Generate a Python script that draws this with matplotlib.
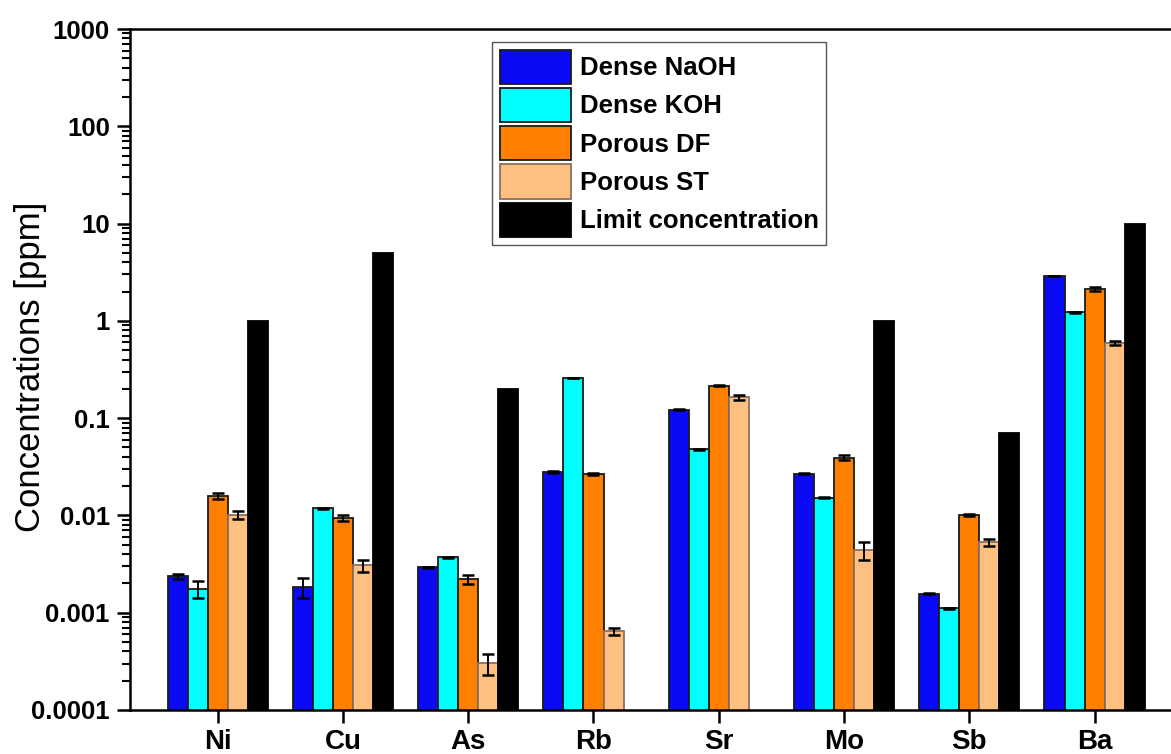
import numpy as np
import matplotlib
matplotlib.use('Agg')
import matplotlib.pyplot as plt

plt.rcParams['font.family'] = ['Liberation Sans', 'DejaVu Sans']

# ── Data ─────────────────────────────────────────────────────
elements = ['Ni', 'Cu', 'As', 'Rb', 'Sr', 'Mo', 'Sb', 'Ba']

dense_naoh     = [0.00236, 0.00185, 0.00292, 0.0280, 0.122, 0.0269, 0.00157, 2.90]
dense_naoh_err = [0.00015, 0.00045, 0.00004, 0.0004, 0.002, 0.0004, 0.00003, 0.02]

dense_koh      = [0.00177, 0.0118, 0.00373, 0.258, 0.0479, 0.0152, 0.00111, 1.22]
dense_koh_err  = [0.00037, 0.0001, 0.00004, 0.002, 0.0005, 0.0002, 0.00001, 0.01]

porous_df      = [0.0159, 0.0094, 0.00221, 0.0268, 0.216, 0.0392, 0.0101, 2.12]
porous_df_err  = [0.0013, 0.0006, 0.00025, 0.0005, 0.004, 0.0025, 0.0003, 0.10]

porous_st      = [0.0101, 0.00308, 0.000303, 0.000647, 0.163, 0.00442, 0.0053, 0.594]
porous_st_err  = [0.0009, 0.00043, 0.000075, 0.000055, 0.011, 0.0009, 0.0004, 0.03]

limit_conc     = [1.0, 5.0, 0.2, np.nan, np.nan, 1.0, 0.07, 10.0]

series = [
    ('Dense NaOH', dense_naoh, dense_naoh_err, '#0a0af5', '#1a1a1a'),
    ('Dense KOH',  dense_koh,  dense_koh_err,  '#00ffff', '#1a1a1a'),
    ('Porous DF',  porous_df,  porous_df_err,  '#ff8000', '#1a1a1a'),
    ('Porous ST',  porous_st,  porous_st_err,  '#fec080', '#8a7060'),
    ('Limit concentration', limit_conc, None, '#000000', '#000000'),
]

# ── Figure ───────────────────────────────────────────────────
fig = plt.figure(figsize=(11.71, 7.54), dpi=100)
ax = fig.add_axes([0.111, 0.0584, 0.889, 0.9031])

x = np.arange(len(elements))
width = 0.16
offsets = (np.arange(len(series)) - 2) * width

ax.set_yscale('log')
for (label, vals, errs, color, edge), off in zip(series, offsets):
    ax.bar(x + off, vals, width, color=color, edgecolor=edge,
           linewidth=1.3, label=label, zorder=2)
    if errs is not None:
        ax.errorbar(x + off, vals, yerr=errs, fmt='none', ecolor='black',
                    elinewidth=1.4, capsize=4.5, capthick=1.8, zorder=3)

ax.set_ylim(0.0001, 1000)
ax.set_xlim(-0.70, 7.61)

ax.set_yticks([0.0001, 0.001, 0.01, 0.1, 1, 10, 100, 1000])
ax.set_yticklabels(['0.0001', '0.001', '0.01', '0.1', '1', '10', '100', '1000'],
                   fontsize=18.5, fontweight='bold')
ax.set_xticks(x)
ax.set_xticklabels(elements, fontsize=20, fontweight='bold')

ax.tick_params(axis='y', which='major', direction='out', length=9.5, width=1.8, pad=5)
ax.tick_params(axis='y', which='minor', direction='out', length=6, width=1.5)
ax.tick_params(axis='x', which='major', direction='out', length=9, width=1.8, pad=5)
ax.tick_params(axis='x', which='minor', bottom=False)

for side in ['left', 'bottom', 'top']:
    ax.spines[side].set_linewidth(1.8)
ax.spines['right'].set_visible(False)

ax.set_ylabel('Concentrations [ppm]', fontsize=25)
ax.yaxis.set_label_coords(-0.08, 0.504)

leg = ax.legend(loc='upper left', bbox_to_anchor=(0.348, 0.981), borderaxespad=0,
                fancybox=False, edgecolor='#555555', framealpha=1,
                prop={'weight': 'bold', 'size': 18.5},
                handlelength=2.75, handleheight=1.68, labelspacing=0.15,
                handletextpad=0.35, borderpad=0.3)
leg.get_frame().set_linewidth(1.0)

fig.savefig('out.png', dpi=100)
